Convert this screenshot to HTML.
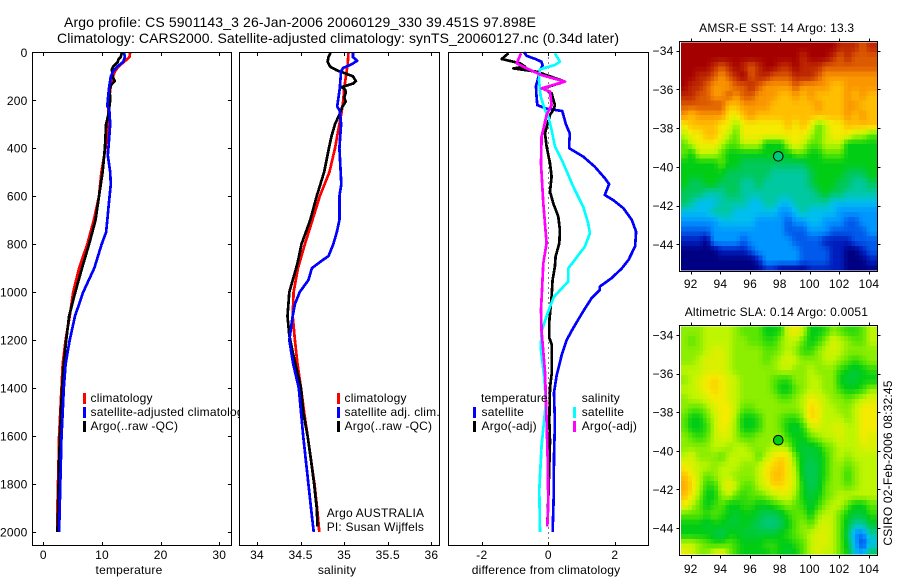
<!DOCTYPE html>
<html>
<head>
<meta charset="utf-8">
<title>Argo profile</title>
<style>
html,body{margin:0;padding:0;background:#fff;}
svg{display:block;}
text{font-family:"Liberation Sans",sans-serif;font-size:12px;letter-spacing:.2px;fill:#000;}
.title{font-size:14px;letter-spacing:0;}
</style>
</head>
<body>
<svg id="chart" xmlns="http://www.w3.org/2000/svg" width="900" height="580" viewBox="0 0 900 580">
<rect x="0" y="0" width="900" height="580" fill="#fff"/>
<text class="title" x="64" y="27" textLength="472" lengthAdjust="spacing">Argo profile: CS 5901143_3 26-Jan-2006 20060129_330 39.451S 97.898E</text>
<text class="title" x="57" y="43" textLength="562" lengthAdjust="spacing">Climatology: CARS2000. Satellite-adjusted climatology: synTS_20060127.nc (0.34d later)</text>

<g id="p1"></g>
<g>
  <rect x="83" y="393" width="3" height="11" fill="#f00"/>
  <text x="90.5" y="402">climatology</text>
  <rect x="83" y="407" width="3" height="11" fill="#00f"/>
  <text x="90.5" y="416">satellite-adjusted climatology</text>
  <rect x="83" y="421" width="3" height="11" fill="#000"/>
  <text x="90.5" y="430">Argo(..raw -QC)</text>
</g>
<text x="129" y="574" text-anchor="middle">temperature</text>

<g id="p2"></g>
<g>
  <rect x="337" y="393" width="3" height="11" fill="#f00"/>
  <text x="344.5" y="402">climatology</text>
  <rect x="337" y="407" width="3" height="11" fill="#00f"/>
  <text x="344.5" y="416">satellite adj. clim.</text>
  <rect x="337" y="421" width="3" height="11" fill="#000"/>
  <text x="344.5" y="430">Argo(..raw -QC)</text>
</g>
<text x="326.7" y="517">Argo AUSTRALIA</text>
<text x="326.7" y="531">PI: Susan Wijffels</text>
<text x="337" y="574" text-anchor="middle">salinity</text>

<g id="p3"></g>
<g>
  <text x="481" y="402">temperature</text>
  <rect x="473" y="407" width="3" height="11" fill="#00f"/>
  <text x="481.5" y="416">satellite</text>
  <rect x="473" y="421" width="3" height="11" fill="#000"/>
  <text x="481.5" y="430">Argo(-adj)</text>
  <text x="581.7" y="402">salinity</text>
  <rect x="573" y="407" width="3" height="11" fill="#0ff"/>
  <text x="581.7" y="416">satellite</text>
  <rect x="573" y="421" width="3" height="11" fill="#f0f"/>
  <text x="581.7" y="430">Argo(-adj)</text>
</g>
<text x="546" y="574" text-anchor="middle">difference from climatology</text>

<g id="m1"></g>
<text x="776.7" y="32" text-anchor="middle">AMSR-E SST: 14 Argo: 13.3</text>
<g id="m2"></g>
<text x="776.4" y="316" text-anchor="middle">Altimetric SLA: 0.14 Argo: 0.0051</text>
<text x="892" y="463" text-anchor="middle" transform="rotate(-90 892 463)">CSIRO 02-Feb-2006 08:32:45</text>
</svg>

<script>
// ---- profile data ----
const depthTicks = [0,200,400,600,800,1000,1200,1400,1600,1800,2000];
const tempTicks = [0,10,20,30];
const salTicks = [34,34.5,35,35.5,36];
const diffTicks = [-2,0,2];

const tempClimDepth = [0,20,40,60,80,100,120,140,160,200,240,300,400,500,600,700,800,900,1000,1100,1200,1300,1400,1500,1600,1700,1800,1900,2000];
const tempClim = [14.8,14.7,13.75,12.8,12.2,11.9,11.8,11.5,11.4,11.2,11.1,11,10.6,9.9,9.5,8.6,7.5,6.1,5.1,4.5,3.8,3.3,3.1,2.9,2.7,2.6,2.5,2.4,2.4];
const tempArgoDepth = [0,20,30,40,60,70,100,120,135,150,200,220,260,300,400,500,600,700,800,900,1000,1100,1200,1300,1400,1500,1600,1700,1800,1900,2000];
const tempArgo = [13.4,13.2,12.8,12.7,11.9,11.7,11.8,12.2,11.6,11.3,11.4,11.3,11.1,10.7,10.5,10.1,9.5,8.9,7.8,6.6,5.45,4.4,3.9,3.5,3.2,3,2.85,2.7,2.6,2.55,2.4];
const tempSatDepth = [0,20,40,60,80,100,150,200,225,240,300,400,430,500,550,650,700,750,800,900,1000,1100,1200,1300,1400,1500,1600,1700,1800,1900,2000];
const tempSat = [13.75,13.9,13.6,12.6,11.9,11.5,11.2,11,10.9,11.25,11.4,11.1,11,11.4,11.5,11.1,10.9,10.7,9.95,8.7,6.8,5.4,4.5,3.8,3.5,3.3,3.1,3,2.9,2.8,2.7];

const salClimDepth = [0,50,100,150,200,250,300,400,500,600,700,800,900,1000,1100,1200,1300,1400,1500,1600,1700,1800,1900,2000];
const salClim = [35.05,35.04,35.02,35,34.99,34.97,34.945,34.895,34.83,34.72,34.635,34.55,34.47,34.42,34.41,34.435,34.465,34.505,34.54,34.58,34.62,34.66,34.69,34.715];
const salArgoDepth = [0,20,40,60,75,85,100,120,130,145,155,165,190,205,230,260,300,350,400,500,600,700,800,880,1000,1100,1180,1250,1400,1500,1600,1700,1800,1900,1977];
const salArgo = [34.845,34.82,34.81,34.84,34.915,34.99,35.1,35.135,35.105,34.97,35.01,35.02,35,35.017,34.975,34.945,34.895,34.855,34.825,34.77,34.685,34.61,34.51,34.465,34.37,34.35,34.37,34.41,34.505,34.53,34.58,34.62,34.655,34.685,34.695];
const salSatDepth = [0,20,35,50,65,80,100,150,200,225,245,300,400,500,550,600,700,750,800,850,870,900,950,1000,1050,1100,1200,1300,1400,1500,1600,1700,1800,1900,2000];
const salSat = [35.1,35.1,35.15,35.085,34.99,34.96,34.96,34.95,34.93,34.92,34.95,34.965,34.945,34.96,34.967,34.945,34.945,34.915,34.875,34.82,34.74,34.63,34.59,34.49,34.435,34.41,34.37,34.415,34.48,34.505,34.53,34.56,34.59,34.62,34.65];

const diffTempSatDepth = [0,15,30,40,55,80,100,140,170,220,235,240,245,270,300,340,380,400,435,477,525,549,560,595,616,650,699,748,810,866,901,942,977,991,1026,1080,1150,1200,1264,1348,1420,1545,1686,1866,2000];
const diffTempSat = [-0.73,-0.65,-0.35,-0.2,-0.17,-0.27,-0.29,-0.37,-0.36,-0.33,-0.05,0.2,0.42,0.47,0.53,0.65,0.63,0.63,1.05,1.4,1.7,1.83,1.8,1.7,1.95,2.26,2.51,2.64,2.61,2.41,2.21,1.9,1.55,1.55,1.3,1.05,0.75,0.55,0.4,0.25,0.17,0.2,0.17,0.16,0.13];
const diffTempArgoDepth = [4,28,46,60,67,81,122,150,171,220,240,261,338,393,463,518,581,630,685,741,796,852,894,949,1019,1122,1190,1218,1343,1398,1537,1621,1825,1977];
const diffTempArgo = [-1.2,-1.4,-0.85,-0.7,-1.05,-0.35,0.5,-0.15,0.1,0.2,0.15,0.05,-0.1,-0.05,0.05,0.1,0.05,0.15,0.3,0.35,0.33,0.22,0.2,0.13,0.1,0.03,0.03,0.1,0.1,0.05,0.03,0.05,0.01,-0.03];
const diffSalSatDepth = [4,39,53,71,115,185,240,268,324,393,463,560,644,713,755,810,901,956,1019,1080,1164,1233,1348,1458,1639,1825,2000];
const diffSalSat = [0.2,0.35,0.2,-0.25,-0.28,-0.23,-0.1,0,0.1,0.2,0.45,0.75,1.05,1.2,1.25,1.1,0.6,0.6,0.17,0,-0.2,-0.23,-0.13,-0.07,-0.2,-0.27,-0.25];
const diffSalArgoDepth = [4,46,67,95,122,150,164,220,261,352,463,630,796,880,1026,1074,1164,1334,1537,1686,1880,1977];
const diffSalArgo = [-0.82,-0.95,-0.65,-0.2,0.5,-0.2,0.05,0.1,-0.05,-0.2,-0.22,-0.15,-0.05,-0.15,-0.2,-0.22,-0.2,-0.1,-0.05,-0.02,0,-0.03];

// ---- map data (colour-scale index per 0.5 degree sample, north to south) ----
const lonTicks = [92,94,96,98,100,102,104];
const latTicks = [-34,-36,-38,-40,-42,-44];
const sstCells = [
[15,15,15,15,15,15,15,15,15,15,15,15,15,15,15,15,15,15,15,15,15,14,14,14,13,14],
[15,15,15,15,15,15,15,15,15,15,15,15,15,15,15,15,14,15,15,15,14,13,14,13,13,13],
[15,15,15,15,14,13,14,15,14,13,14,15,15,14,14,15,14,14,14,13,13,13,13,13,13,13],
[15,15,14,14,13,12,13,14,15,13,14,14,13,13,13,14,14,14,13,12,12,12,12,12,12,12],
[15,14,14,13,12,12,12,13,13,14,13,12,12,12,12,13,12,12,12,12,11,11,12,12,12,12],
[14,14,13,13,12,12,13,12,13,13,12,12,12,11,11,12,11,12,11,11,11,11,12,11,12,11],
[13,13,13,13,13,13,11,11,12,12,12,12,11,11,11,11,11,11,12,11,11,11,12,12,11,11],
[12,11,12,12,12,12,10,10,11,12,11,11,11,11,11,11,11,11,11,11,11,11,12,11,12,11],
[10,11,11,11,11,10,10,8.5,10,10,10,10,10,10,11,10,11,10,8,9,10,10,11,11,11,11],
[9,10,10,11,11,10,9,8,10,10,10,10,10,10,10,10,10,9,8,9,10,10,10,9,9,8],
[8,9,10,10,10,9,8,8,9,9,9,7,7,7,9,10,9,8,8,9,9,9,7,7,7,7],
[8,7,9,9,9,8,7,7,7,7,7,7,7,7,7,8,8,7,7,8,8,8,7,7,7,7],
[7,7,7,7,7,8,7,7,6,6,6,6,6,6,6,6,6,7,7,7,7,7,7,7,7,7],
[7,7,7,7,7,7,6,6,6,6,6,6,5,5,5,5,5,6,7,7,7,7,6,6,6,7],
[7,6,6,7,7,6,6,6,5,5,6,5,5,5,5,5,5,6,7,7,7,6,6,5,5,6],
[6,6,6,5,5,5,6,6,5,5,5,5,5,5,5,5,5,5,6,7,6,6,5,5,5,5],
[6,5,4,4,4,5,5,5,5,4,4,5,5,4,4,5,5,5,5,5,4,4,4,4,4,4],
[4,4,4,4,5,5,5,4,4,4,4,4,4,3,3,4,5,4,4,4,4,3,3,3,3,3],
[3,3,3,3,3,4,4,4,4,4,3,3,3,3,2,3,3,4,4,3,3,3,2,2,3,3],
[2,2,2,2,3,3,3,3,3,3,3,3,3,3,2,2,2,3,3,3,2,2,2,2,2,3],
[1,1,1,0,3,3,3,3,2,3,3,3,3,3,3,2,2,2,2,1,1,1,1,2,2,2],
[0,0,0,0,0,1,1,1,1,2,3,3,3,3,3,3,2,2,2,2,1,1,0,0,1,2],
[0,0,0,0,0,0,0,0,0,0,1,3,3,3,3,3,2,2,2,2,1,1,0,0,0,1],
[0,0,0,0,0,0,0,0,0,0,0,1,1,0,0,0,0,1,1,1,1,1,0,0,0,0]
];
const slaCells = [
[8.5,8.5,8.5,9,9,9,9,8.5,8,8,8,7,7,7.5,9.5,10,9,7,7,7.5,8.5,8,7.5,7.5,8,9],
[8.5,8,8.5,9,9,9,9,8.5,8.5,8,8,7.5,7.5,8.5,9,9,8,7,7.5,8.5,9.5,9,8.5,8,8,9],
[8.5,8.5,8.5,9,9.5,9.5,9,8.5,8.5,8.5,8.5,8,8,8.5,9,8.5,7.5,7.5,8.5,9,9.5,9,8.5,8.5,8.5,8.5],
[8.5,8.5,9,9.5,9.5,9.5,9,8.5,8.5,8.5,8.5,8,8.5,9,9.5,9,8.5,8.5,8.5,9,9,8.5,8,7.5,8,8.5],
[9,9,9,9.5,9.5,9.5,9,8.5,8.5,8.5,8.5,8.5,8.5,9,9,8.5,8.5,9,8.5,8.5,8.5,7.5,7,6.5,7,7.5],
[8.5,9,9.5,10,10.5,10,9.5,9,8.5,8.5,8.5,8.5,8,7.5,7.5,8.5,8.5,9,9,8.5,8.5,7,6.5,6.5,7,7],
[9,9,9.5,10,10.5,10,9.5,9,8.5,8.5,8.5,8.5,8,7,7,8,8.5,9,9,8.5,8.5,7.5,7,7,7.5,8.5],
[8.5,9,9,9.5,10,10,9.5,9,8.5,8.5,8.5,8.5,8.5,8,8,8.5,9,10,9.5,9,8.5,8.5,8,8.5,9,9.5],
[8.5,8,8,8.5,9.5,10,10,9,8,8,8.5,8.5,8.5,8.5,8.5,8.5,9,10.5,10,9,9,8.5,8.5,9,10,10],
[8,7,7,8,9,10,10,8.5,7,7,7.5,8.5,8.5,8,7.5,7.5,8.5,10.5,10,9,9,9,8.5,9,10,10],
[8,7,7,7.5,9,10,9.5,8.5,7,7,7.5,8.5,8.5,8,7,6.5,7.5,9,9.5,9,9.5,9.5,9,9,10,10],
[8.5,8,7.5,8,9,9.5,9.5,8.5,8,8,8.5,8.5,8.5,8.5,7.5,7,7,8,8.5,9,9,9.5,9,9,10,9.5],
[8.5,8.5,8.5,8.5,9,9,8.5,9,9,8.5,8.5,8.5,9,9,8.5,7,6.5,6.5,7,8,8.5,9,9,9,9.5,9.5],
[9,9.5,8.5,8.5,8.5,8,9,9,9,9,8,9,10,10.5,10,8,6.5,6.5,6.5,7.5,8.5,9,8.5,9,9,9],
[10,9.5,9,9,8.5,9,9,9,8.5,8.5,9,10,10.5,11,10,8.5,6.5,6,6.5,7.5,8.5,8.5,8,8.5,9,9],
[11,10,9,8,8.5,9,9,8.5,8.5,8.5,9,10,11,11,10,9,6.5,6,6.5,7.5,8.5,8.5,7.5,8.5,9,9],
[11.5,10.5,9,7.5,7.5,9,10,9,8,8,9,9.5,10.5,10.5,10,9,7,6,6.5,8,8.5,8.5,8,8.5,9,9],
[11,10,8.5,7,7,8.5,9,8,7.5,8,8,8.5,9,9.5,9.5,8.5,7,6.5,7,8,8.5,9,9,9,9,9],
[10,9,8,7,7.5,8,7,7,7.5,7.5,7,7,7.5,8,8.5,8,7.5,6.5,7.5,8.5,9,9,8,7,7,8],
[8,8,8,7.5,8,7.5,7,6.5,7,7,6.5,6,6,6.5,7.5,8,8,7,8.5,9,9,8,7,6.5,6.5,7.5],
[7,7,7,6.5,7,7,6.5,6.5,7,6.5,6,5.5,5.5,6,7,8,8.5,8,9,9.5,9,8,6.5,5,5,6.5],
[7,7,7,7,6.5,6,7,7,6.5,6.5,6.5,6.5,6.5,7,7.5,8,8.5,9,9.5,9.5,9,8,6,3,2.5,5],
[9,9,8.5,8,7.5,7.5,8,7.5,7,7,7,7.5,7.5,7,7,7.5,8,9,9.5,9.5,9,8,6.5,3.5,1.5,4],
[10,9.5,8.5,8.5,9.5,10,8.5,7.5,7,7,7,7,7.5,7,6.5,7,8,9,9.5,9,9,8,7,4,3.5,6]
];
const floatLon = 97.898;
const floatLat = -39.451;
const sstMarkerValue = 5.5;
const slaMarkerValue = 7;

// ---- helpers and axes ----
const NS = 'http://www.w3.org/2000/svg';
const ramp = [[0,0,130],[0,30,190],[0,90,235],[0,150,255],[0,190,240],[0,200,160],[0,200,90],[0,205,20],[90,230,0],[190,245,0],[245,235,0],[255,190,0],[250,150,0],[220,90,0],[190,40,0],[165,0,0]];
function colour(v){
  const a = Math.max(0, Math.min(ramp.length - 1, Math.floor(v)));
  const b = Math.min(ramp.length - 1, a + 1);
  const t = v - a;
  const c = ramp[a].map((p, i) => Math.round(p + (ramp[b][i] - p) * t));
  return 'rgb(' + c.join(',') + ')';
}
function mk(tag, attrs, parent){
  const el = document.createElementNS(NS, tag);
  for (const k in attrs) el.setAttribute(k, attrs[k]);
  parent.appendChild(el);
  return el;
}
const top0 = 52.3, bottom0 = 545.5;
const yDepth = d => 52.3 + d * 0.2398;
const xTemp = v => 43.3 + v * 5.867;
const xSal = v => 257 + (v - 34) * 87.17;
const xDiff = v => 548.3 + v * 33.25;

function panelFrame(g, left, right, xTicks, xFn, nameRoot){
  const bg = mk('rect', {x:left, y:top0, width:right-left, height:bottom0-top0, fill:'#fff'}, g);
  
  
  xTicks.forEach(t => {
    const x = Math.round(xFn(t)) + .5;
    const a = mk('path', {d:'M'+x+' '+top0+'v3.5M'+x+' '+bottom0+'v-3.5', stroke:'#000', fill:'none', 'stroke-width':1, 'shape-rendering':'crispEdges'}, g);
    
    
    const lab = mk('text', {x:xFn(t), y:559, 'text-anchor':'middle'}, g);
    lab.textContent = t;
    
    
  });
}
function panelBorder(g, left, right, nameRoot){
  const b = mk('rect', {x:left, y:top0, width:right-left, height:bottom0-top0, fill:'none', stroke:'#000', 'stroke-width':1, 'shape-rendering':'crispEdges'}, g);
  
  
}
function profile(g, vals, depths, xFn, col, w, name){
  const pts = vals.map((v, i) => xFn(v).toFixed(1) + ',' + yDepth(depths[i]).toFixed(1)).join(' ');
  const l = mk('polyline', {points:pts, fill:'none', stroke:col, 'stroke-width':w, 'stroke-linejoin':'round', 'shape-rendering':'crispEdges'}, g);
  
  
}

// temperature panel
const p1 = document.getElementById('p1');
panelFrame(p1, 32.5, 231.5, tempTicks, xTemp, 'temperature');
depthTicks.forEach(d => {
  const y = Math.round(yDepth(d)) + .5;
  const tk = mk('path', {d:'M32.5 '+y+'h3.5M231.5 '+y+'h-3.5', stroke:'#000', fill:'none', 'shape-rendering':'crispEdges'}, p1);
  
  
  const lab = mk('text', {x:27.5, y:yDepth(d)+4.5, 'text-anchor':'end'}, p1);
  lab.textContent = d;
  
  
});
profile(p1, tempClim, tempClimDepth, xTemp, '#f00', 2.7, 'temperature-climatology-line');
profile(p1, tempArgo, tempArgoDepth, xTemp, '#000', 2.7, 'temperature-argo-line');
profile(p1, tempSat, tempSatDepth, xTemp, '#00f', 2.7, 'temperature-satellite-line');
panelBorder(p1, 32.5, 231.5, 'temperature');

// salinity panel
const p2 = document.getElementById('p2');
panelFrame(p2, 239.5, 439.5, salTicks, xSal, 'salinity');
profile(p2, salClim, salClimDepth, xSal, '#f00', 2.7, 'salinity-climatology-line');
profile(p2, salArgo, salArgoDepth, xSal, '#000', 2.7, 'salinity-argo-line');
profile(p2, salSat, salSatDepth, xSal, '#00f', 2.7, 'salinity-satellite-line');
panelBorder(p2, 239.5, 439.5, 'salinity');

// difference panel
const p3 = document.getElementById('p3');
panelFrame(p3, 448.5, 648.5, diffTicks, xDiff, 'difference');
const zero = mk('line', {x1:xDiff(0), x2:xDiff(0), y1:top0, y2:bottom0, stroke:'#000', 'stroke-width':1, 'stroke-dasharray':'1 4', 'shape-rendering':'crispEdges'}, p3);


profile(p3, diffTempSat, diffTempSatDepth, xDiff, '#00f', 2.7, 'difference-temperature-satellite-line');
profile(p3, diffTempArgo, diffTempArgoDepth, xDiff, '#000', 2.7, 'difference-temperature-argo-line');
profile(p3, diffSalSat, diffSalSatDepth, xDiff, '#0ff', 2.7, 'difference-salinity-satellite-line');
profile(p3, diffSalArgo, diffSalArgoDepth, xDiff, '#f0f', 2.7, 'difference-salinity-argo-line');
panelBorder(p3, 448.5, 648.5, 'difference');

// maps: each 0.5 degree sample is drawn as 0.25 degree pixels shaded between neighbouring samples
function drawMap(g, cells, axis, markerValue, nameRoot){
  const lonStart = 91.33;
  const xLon = lon => 690.7 + (lon - 92) * 14.85;
  const yLat = lat => axis.y34 + (-34 - lat) * axis.pxPerDeg;
  const imgLeft = 681, imgRight = 877;
  const imgTop = axis.top + 1, imgBottom = axis.bottom - 1;
  const latStart = -34 + (axis.y34 - imgTop) / axis.pxPerDeg;
  const nRow = cells.length, nCol = cells[0].length;
  const sample = (u, v) => {
    const cu = Math.max(0, Math.min(nCol - 1, u));
    const cv = Math.max(0, Math.min(nRow - 1, v));
    const u0 = Math.floor(cu), v0 = Math.floor(cv);
    const u1 = Math.min(nCol - 1, u0 + 1), v1 = Math.min(nRow - 1, v0 + 1);
    const fu = cu - u0, fv = cv - v0;
    return (cells[v0][u0] * (1 - fu) + cells[v0][u1] * fu) * (1 - fv) +
           (cells[v1][u0] * (1 - fu) + cells[v1][u1] * fu) * fv;
  };
  for (let j = 0; j < nRow * 2; j++) {
    const y0 = yLat(latStart - j * 0.25);
    const y1 = Math.min(imgBottom, yLat(latStart - (j + 1) * 0.25));
    if (y1 <= y0) continue;
    for (let i = 0; i < nCol * 2 + 2; i++) {
      const x0 = Math.max(imgLeft, xLon(lonStart + i * 0.25));
      const x1 = Math.min(imgRight, xLon(lonStart + (i + 1) * 0.25));
      if (x1 <= x0) continue;
      const val = sample((i + 0.5) / 2 - 0.5, (j + 0.5) / 2 - 0.5);
      const cell = mk('rect', {x:x0.toFixed(2), y:y0.toFixed(2), width:(x1 - x0).toFixed(2), height:(y1 - y0).toFixed(2), fill:colour(val), 'shape-rendering':'crispEdges'}, g);
      
      
    }
  }
  const frame = mk('rect', {x:679.5, y:axis.top, width:198, height:axis.bottom - axis.top, fill:'none', stroke:'#000', 'shape-rendering':'crispEdges'}, g);
  
  
  lonTicks.forEach(t => {
    const x = Math.round(xLon(t)) + .5;
    const tk = mk('path', {d:'M'+x+' '+axis.top+'v-3M'+x+' '+axis.bottom+'v3', stroke:'#000', fill:'none', 'shape-rendering':'crispEdges'}, g);
    
    
    const lab = mk('text', {x:xLon(t), y:axis.labelY, 'text-anchor':'middle'}, g);
    lab.textContent = t;
    
    
  });
  latTicks.forEach(t => {
    const y = Math.round(yLat(t)) + .5;
    const tk = mk('path', {d:'M679.5 '+y+'h-3M877.5 '+y+'h3', stroke:'#000', fill:'none', 'shape-rendering':'crispEdges'}, g);
    
    
    const lab = mk('text', {x:673.5, y:yLat(t)+4.5, 'text-anchor':'end'}, g);
    lab.textContent = '\u2212' + Math.abs(t);
    
    
  });
  const mark = mk('circle', {cx:xLon(floatLon), cy:yLat(floatLat), r:4.8, fill:colour(markerValue), stroke:'#000', 'stroke-width':1}, g);
  
  
}
drawMap(document.getElementById('m1'), sstCells, {top:41.5, bottom:271.5, y34:50.7, pxPerDeg:19.37, labelY:288}, sstMarkerValue, 'sst-map');
drawMap(document.getElementById('m2'), slaCells, {top:325.5, bottom:555.5, y34:335, pxPerDeg:19.3, labelY:573}, slaMarkerValue, 'sla-map');
</script>
</body>
</html>
